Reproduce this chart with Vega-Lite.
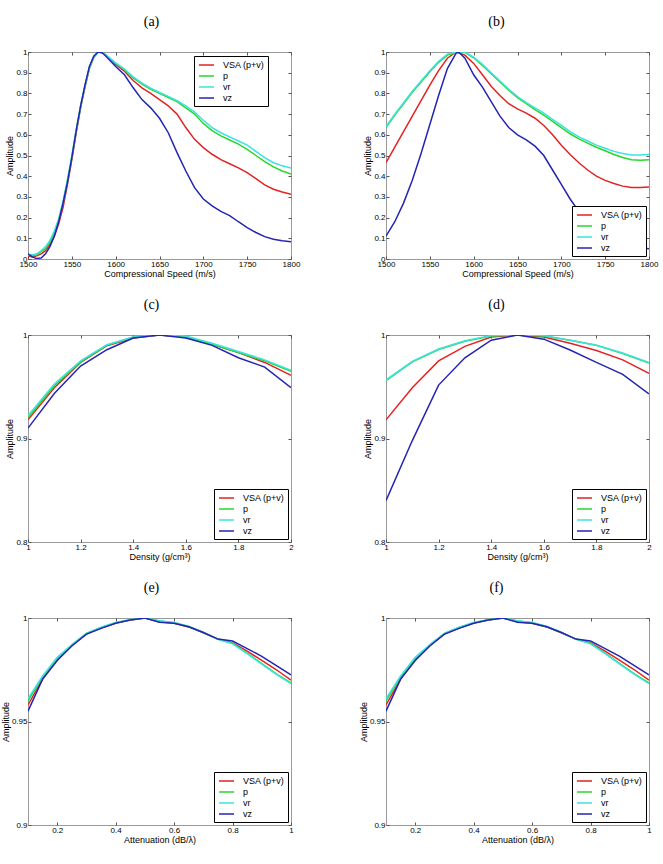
{
"$schema":"https://vega.github.io/schema/vega-lite/v6.json",
"background":"white",
"padding":{"left":0,"top":14,"right":5,"bottom":5},
"bounds":"flush",
"columns":2,
"spacing":{"row":76,"column":95},
"datasets":{
"a":[
{"x":1500,"s":"VSA (p+v)","y":0.015},{"x":1505,"s":"VSA (p+v)","y":0.01},{"x":1510,"s":"VSA (p+v)","y":0.015},{"x":1515,"s":"VSA (p+v)","y":0.025},{"x":1520,"s":"VSA (p+v)","y":0.04},{"x":1525,"s":"VSA (p+v)","y":0.07},{"x":1530,"s":"VSA (p+v)","y":0.11},{"x":1535,"s":"VSA (p+v)","y":0.17},{"x":1540,"s":"VSA (p+v)","y":0.25},{"x":1545,"s":"VSA (p+v)","y":0.36},{"x":1550,"s":"VSA (p+v)","y":0.48},{"x":1555,"s":"VSA (p+v)","y":0.61},{"x":1560,"s":"VSA (p+v)","y":0.73},{"x":1565,"s":"VSA (p+v)","y":0.83},{"x":1570,"s":"VSA (p+v)","y":0.92},{"x":1575,"s":"VSA (p+v)","y":0.975},{"x":1580,"s":"VSA (p+v)","y":1.0},{"x":1585,"s":"VSA (p+v)","y":0.998},{"x":1590,"s":"VSA (p+v)","y":0.98},{"x":1600,"s":"VSA (p+v)","y":0.94},{"x":1610,"s":"VSA (p+v)","y":0.907},{"x":1620,"s":"VSA (p+v)","y":0.862},{"x":1630,"s":"VSA (p+v)","y":0.827},{"x":1640,"s":"VSA (p+v)","y":0.8},{"x":1650,"s":"VSA (p+v)","y":0.77},{"x":1660,"s":"VSA (p+v)","y":0.74},{"x":1670,"s":"VSA (p+v)","y":0.7},{"x":1680,"s":"VSA (p+v)","y":0.635},{"x":1690,"s":"VSA (p+v)","y":0.578},{"x":1700,"s":"VSA (p+v)","y":0.538},{"x":1710,"s":"VSA (p+v)","y":0.506},{"x":1720,"s":"VSA (p+v)","y":0.48},{"x":1730,"s":"VSA (p+v)","y":0.46},{"x":1740,"s":"VSA (p+v)","y":0.44},{"x":1750,"s":"VSA (p+v)","y":0.417},{"x":1760,"s":"VSA (p+v)","y":0.388},{"x":1770,"s":"VSA (p+v)","y":0.358},{"x":1780,"s":"VSA (p+v)","y":0.337},{"x":1790,"s":"VSA (p+v)","y":0.324},{"x":1800,"s":"VSA (p+v)","y":0.313},
{"x":1500,"s":"p","y":0.02},{"x":1505,"s":"p","y":0.015},{"x":1510,"s":"p","y":0.02},{"x":1515,"s":"p","y":0.035},{"x":1520,"s":"p","y":0.05},{"x":1525,"s":"p","y":0.08},{"x":1530,"s":"p","y":0.125},{"x":1535,"s":"p","y":0.185},{"x":1540,"s":"p","y":0.27},{"x":1545,"s":"p","y":0.375},{"x":1550,"s":"p","y":0.49},{"x":1555,"s":"p","y":0.62},{"x":1560,"s":"p","y":0.735},{"x":1565,"s":"p","y":0.835},{"x":1570,"s":"p","y":0.92},{"x":1575,"s":"p","y":0.975},{"x":1580,"s":"p","y":1.0},{"x":1585,"s":"p","y":0.998},{"x":1590,"s":"p","y":0.982},{"x":1600,"s":"p","y":0.945},{"x":1610,"s":"p","y":0.915},{"x":1620,"s":"p","y":0.875},{"x":1630,"s":"p","y":0.845},{"x":1640,"s":"p","y":0.82},{"x":1650,"s":"p","y":0.8},{"x":1660,"s":"p","y":0.78},{"x":1670,"s":"p","y":0.76},{"x":1680,"s":"p","y":0.73},{"x":1690,"s":"p","y":0.7},{"x":1700,"s":"p","y":0.655},{"x":1710,"s":"p","y":0.62},{"x":1720,"s":"p","y":0.595},{"x":1730,"s":"p","y":0.575},{"x":1740,"s":"p","y":0.555},{"x":1750,"s":"p","y":0.53},{"x":1760,"s":"p","y":0.5},{"x":1770,"s":"p","y":0.47},{"x":1780,"s":"p","y":0.445},{"x":1790,"s":"p","y":0.425},{"x":1800,"s":"p","y":0.41},
{"x":1500,"s":"vr","y":0.02},{"x":1505,"s":"vr","y":0.02},{"x":1510,"s":"vr","y":0.025},{"x":1515,"s":"vr","y":0.04},{"x":1520,"s":"vr","y":0.06},{"x":1525,"s":"vr","y":0.09},{"x":1530,"s":"vr","y":0.135},{"x":1535,"s":"vr","y":0.195},{"x":1540,"s":"vr","y":0.28},{"x":1545,"s":"vr","y":0.385},{"x":1550,"s":"vr","y":0.5},{"x":1555,"s":"vr","y":0.625},{"x":1560,"s":"vr","y":0.74},{"x":1565,"s":"vr","y":0.84},{"x":1570,"s":"vr","y":0.925},{"x":1575,"s":"vr","y":0.977},{"x":1580,"s":"vr","y":1.0},{"x":1585,"s":"vr","y":0.998},{"x":1590,"s":"vr","y":0.983},{"x":1600,"s":"vr","y":0.947},{"x":1610,"s":"vr","y":0.918},{"x":1620,"s":"vr","y":0.88},{"x":1630,"s":"vr","y":0.85},{"x":1640,"s":"vr","y":0.825},{"x":1650,"s":"vr","y":0.805},{"x":1660,"s":"vr","y":0.785},{"x":1670,"s":"vr","y":0.765},{"x":1680,"s":"vr","y":0.74},{"x":1690,"s":"vr","y":0.71},{"x":1700,"s":"vr","y":0.67},{"x":1710,"s":"vr","y":0.635},{"x":1720,"s":"vr","y":0.61},{"x":1730,"s":"vr","y":0.59},{"x":1740,"s":"vr","y":0.57},{"x":1750,"s":"vr","y":0.55},{"x":1760,"s":"vr","y":0.52},{"x":1770,"s":"vr","y":0.49},{"x":1780,"s":"vr","y":0.465},{"x":1790,"s":"vr","y":0.45},{"x":1800,"s":"vr","y":0.44},
{"x":1500,"s":"vz","y":0.025},{"x":1505,"s":"vz","y":0.01},{"x":1510,"s":"vz","y":0.002},{"x":1515,"s":"vz","y":0.005},{"x":1520,"s":"vz","y":0.025},{"x":1525,"s":"vz","y":0.06},{"x":1530,"s":"vz","y":0.11},{"x":1535,"s":"vz","y":0.18},{"x":1540,"s":"vz","y":0.27},{"x":1545,"s":"vz","y":0.37},{"x":1550,"s":"vz","y":0.49},{"x":1555,"s":"vz","y":0.62},{"x":1560,"s":"vz","y":0.74},{"x":1565,"s":"vz","y":0.84},{"x":1570,"s":"vz","y":0.93},{"x":1575,"s":"vz","y":0.98},{"x":1580,"s":"vz","y":1.0},{"x":1585,"s":"vz","y":0.995},{"x":1590,"s":"vz","y":0.975},{"x":1600,"s":"vz","y":0.93},{"x":1610,"s":"vz","y":0.89},{"x":1620,"s":"vz","y":0.827},{"x":1630,"s":"vz","y":0.77},{"x":1640,"s":"vz","y":0.73},{"x":1650,"s":"vz","y":0.68},{"x":1660,"s":"vz","y":0.61},{"x":1670,"s":"vz","y":0.514},{"x":1680,"s":"vz","y":0.425},{"x":1690,"s":"vz","y":0.345},{"x":1700,"s":"vz","y":0.29},{"x":1710,"s":"vz","y":0.257},{"x":1720,"s":"vz","y":0.23},{"x":1730,"s":"vz","y":0.21},{"x":1740,"s":"vz","y":0.18},{"x":1750,"s":"vz","y":0.152},{"x":1760,"s":"vz","y":0.128},{"x":1770,"s":"vz","y":0.108},{"x":1780,"s":"vz","y":0.095},{"x":1790,"s":"vz","y":0.088},{"x":1800,"s":"vz","y":0.083}
],
"b":[
{"x":1500,"s":"VSA (p+v)","y":0.465},{"x":1510,"s":"VSA (p+v)","y":0.54},{"x":1520,"s":"VSA (p+v)","y":0.615},{"x":1530,"s":"VSA (p+v)","y":0.69},{"x":1540,"s":"VSA (p+v)","y":0.765},{"x":1550,"s":"VSA (p+v)","y":0.84},{"x":1560,"s":"VSA (p+v)","y":0.91},{"x":1570,"s":"VSA (p+v)","y":0.97},{"x":1580,"s":"VSA (p+v)","y":1.0},{"x":1590,"s":"VSA (p+v)","y":0.985},{"x":1600,"s":"VSA (p+v)","y":0.945},{"x":1610,"s":"VSA (p+v)","y":0.89},{"x":1620,"s":"VSA (p+v)","y":0.835},{"x":1630,"s":"VSA (p+v)","y":0.79},{"x":1640,"s":"VSA (p+v)","y":0.75},{"x":1650,"s":"VSA (p+v)","y":0.725},{"x":1660,"s":"VSA (p+v)","y":0.705},{"x":1670,"s":"VSA (p+v)","y":0.68},{"x":1680,"s":"VSA (p+v)","y":0.645},{"x":1690,"s":"VSA (p+v)","y":0.6},{"x":1700,"s":"VSA (p+v)","y":0.55},{"x":1710,"s":"VSA (p+v)","y":0.505},{"x":1720,"s":"VSA (p+v)","y":0.465},{"x":1730,"s":"VSA (p+v)","y":0.43},{"x":1740,"s":"VSA (p+v)","y":0.4},{"x":1750,"s":"VSA (p+v)","y":0.38},{"x":1760,"s":"VSA (p+v)","y":0.365},{"x":1770,"s":"VSA (p+v)","y":0.352},{"x":1780,"s":"VSA (p+v)","y":0.345},{"x":1790,"s":"VSA (p+v)","y":0.345},{"x":1800,"s":"VSA (p+v)","y":0.348},
{"x":1500,"s":"p","y":0.635},{"x":1510,"s":"p","y":0.695},{"x":1520,"s":"p","y":0.75},{"x":1530,"s":"p","y":0.805},{"x":1540,"s":"p","y":0.855},{"x":1550,"s":"p","y":0.905},{"x":1560,"s":"p","y":0.95},{"x":1570,"s":"p","y":0.985},{"x":1580,"s":"p","y":0.998},{"x":1590,"s":"p","y":0.998},{"x":1600,"s":"p","y":0.972},{"x":1610,"s":"p","y":0.935},{"x":1620,"s":"p","y":0.895},{"x":1630,"s":"p","y":0.855},{"x":1640,"s":"p","y":0.815},{"x":1650,"s":"p","y":0.78},{"x":1660,"s":"p","y":0.75},{"x":1670,"s":"p","y":0.722},{"x":1680,"s":"p","y":0.695},{"x":1690,"s":"p","y":0.665},{"x":1700,"s":"p","y":0.635},{"x":1710,"s":"p","y":0.605},{"x":1720,"s":"p","y":0.58},{"x":1730,"s":"p","y":0.56},{"x":1740,"s":"p","y":0.54},{"x":1750,"s":"p","y":0.523},{"x":1760,"s":"p","y":0.505},{"x":1770,"s":"p","y":0.49},{"x":1780,"s":"p","y":0.48},{"x":1790,"s":"p","y":0.477},{"x":1800,"s":"p","y":0.48},
{"x":1500,"s":"vr","y":0.64},{"x":1510,"s":"vr","y":0.7},{"x":1520,"s":"vr","y":0.755},{"x":1530,"s":"vr","y":0.81},{"x":1540,"s":"vr","y":0.86},{"x":1550,"s":"vr","y":0.91},{"x":1560,"s":"vr","y":0.955},{"x":1570,"s":"vr","y":0.99},{"x":1580,"s":"vr","y":1.0},{"x":1590,"s":"vr","y":1.0},{"x":1600,"s":"vr","y":0.975},{"x":1610,"s":"vr","y":0.94},{"x":1620,"s":"vr","y":0.9},{"x":1630,"s":"vr","y":0.86},{"x":1640,"s":"vr","y":0.82},{"x":1650,"s":"vr","y":0.785},{"x":1660,"s":"vr","y":0.755},{"x":1670,"s":"vr","y":0.73},{"x":1680,"s":"vr","y":0.705},{"x":1690,"s":"vr","y":0.675},{"x":1700,"s":"vr","y":0.645},{"x":1710,"s":"vr","y":0.615},{"x":1720,"s":"vr","y":0.59},{"x":1730,"s":"vr","y":0.57},{"x":1740,"s":"vr","y":0.55},{"x":1750,"s":"vr","y":0.535},{"x":1760,"s":"vr","y":0.52},{"x":1770,"s":"vr","y":0.51},{"x":1780,"s":"vr","y":0.503},{"x":1790,"s":"vr","y":0.503},{"x":1800,"s":"vr","y":0.505},
{"x":1500,"s":"vz","y":0.11},{"x":1510,"s":"vz","y":0.18},{"x":1520,"s":"vz","y":0.27},{"x":1530,"s":"vz","y":0.38},{"x":1540,"s":"vz","y":0.51},{"x":1550,"s":"vz","y":0.65},{"x":1560,"s":"vz","y":0.79},{"x":1570,"s":"vz","y":0.92},{"x":1580,"s":"vz","y":0.995},{"x":1583,"s":"vz","y":1.0},{"x":1590,"s":"vz","y":0.97},{"x":1600,"s":"vz","y":0.89},{"x":1610,"s":"vz","y":0.83},{"x":1620,"s":"vz","y":0.76},{"x":1630,"s":"vz","y":0.69},{"x":1640,"s":"vz","y":0.635},{"x":1650,"s":"vz","y":0.6},{"x":1660,"s":"vz","y":0.575},{"x":1670,"s":"vz","y":0.545},{"x":1680,"s":"vz","y":0.5},{"x":1690,"s":"vz","y":0.43},{"x":1700,"s":"vz","y":0.36},{"x":1710,"s":"vz","y":0.29},{"x":1720,"s":"vz","y":0.23},{"x":1730,"s":"vz","y":0.18},{"x":1740,"s":"vz","y":0.14},{"x":1750,"s":"vz","y":0.11},{"x":1760,"s":"vz","y":0.085},{"x":1770,"s":"vz","y":0.07},{"x":1780,"s":"vz","y":0.06},{"x":1790,"s":"vz","y":0.055},{"x":1800,"s":"vz","y":0.05}
],
"c":[
{"x":1.0,"s":"VSA (p+v)","y":0.918},{"x":1.1,"s":"VSA (p+v)","y":0.949},{"x":1.2,"s":"VSA (p+v)","y":0.9735},{"x":1.3,"s":"VSA (p+v)","y":0.9897},{"x":1.4,"s":"VSA (p+v)","y":0.997},{"x":1.5,"s":"VSA (p+v)","y":1.0},{"x":1.6,"s":"VSA (p+v)","y":0.998},{"x":1.7,"s":"VSA (p+v)","y":0.991},{"x":1.8,"s":"VSA (p+v)","y":0.983},{"x":1.9,"s":"VSA (p+v)","y":0.9735},{"x":2.0,"s":"VSA (p+v)","y":0.961},
{"x":1.0,"s":"p","y":0.92},{"x":1.1,"s":"p","y":0.951},{"x":1.2,"s":"p","y":0.974},{"x":1.3,"s":"p","y":0.99},{"x":1.4,"s":"p","y":0.998},{"x":1.5,"s":"p","y":1.0},{"x":1.6,"s":"p","y":0.998},{"x":1.7,"s":"p","y":0.991},{"x":1.8,"s":"p","y":0.983},{"x":1.9,"s":"p","y":0.975},{"x":2.0,"s":"p","y":0.965},
{"x":1.0,"s":"vr","y":0.922},{"x":1.1,"s":"vr","y":0.9526},{"x":1.2,"s":"vr","y":0.975},{"x":1.3,"s":"vr","y":0.9906},{"x":1.4,"s":"vr","y":0.998},{"x":1.5,"s":"vr","y":1.0},{"x":1.6,"s":"vr","y":0.999},{"x":1.7,"s":"vr","y":0.992},{"x":1.8,"s":"vr","y":0.984},{"x":1.9,"s":"vr","y":0.976},{"x":2.0,"s":"vr","y":0.966},
{"x":1.0,"s":"vz","y":0.91},{"x":1.1,"s":"vz","y":0.9435},{"x":1.2,"s":"vz","y":0.97},{"x":1.3,"s":"vz","y":0.9858},{"x":1.4,"s":"vz","y":0.997},{"x":1.5,"s":"vz","y":1.0},{"x":1.6,"s":"vz","y":0.997},{"x":1.7,"s":"vz","y":0.99},{"x":1.8,"s":"vz","y":0.978},{"x":1.9,"s":"vz","y":0.969},{"x":2.0,"s":"vz","y":0.949}
],
"d":[
{"x":1.0,"s":"VSA (p+v)","y":0.918},{"x":1.1,"s":"VSA (p+v)","y":0.949},{"x":1.2,"s":"VSA (p+v)","y":0.975},{"x":1.3,"s":"VSA (p+v)","y":0.989},{"x":1.4,"s":"VSA (p+v)","y":0.998},{"x":1.5,"s":"VSA (p+v)","y":1.0},{"x":1.6,"s":"VSA (p+v)","y":0.998},{"x":1.7,"s":"VSA (p+v)","y":0.992},{"x":1.8,"s":"VSA (p+v)","y":0.985},{"x":1.9,"s":"VSA (p+v)","y":0.976},{"x":2.0,"s":"VSA (p+v)","y":0.963},
{"x":1.0,"s":"p","y":0.956},{"x":1.1,"s":"p","y":0.974},{"x":1.2,"s":"p","y":0.986},{"x":1.3,"s":"p","y":0.994},{"x":1.4,"s":"p","y":0.999},{"x":1.5,"s":"p","y":1.0},{"x":1.6,"s":"p","y":0.999},{"x":1.7,"s":"p","y":0.995},{"x":1.8,"s":"p","y":0.99},{"x":1.9,"s":"p","y":0.982},{"x":2.0,"s":"p","y":0.973},
{"x":1.0,"s":"vr","y":0.9565},{"x":1.1,"s":"vr","y":0.9745},{"x":1.2,"s":"vr","y":0.9865},{"x":1.3,"s":"vr","y":0.9945},{"x":1.4,"s":"vr","y":0.9994},{"x":1.5,"s":"vr","y":1.0},{"x":1.6,"s":"vr","y":0.9994},{"x":1.7,"s":"vr","y":0.995},{"x":1.8,"s":"vr","y":0.99},{"x":1.9,"s":"vr","y":0.9826},{"x":2.0,"s":"vr","y":0.9735},
{"x":1.0,"s":"vz","y":0.84},{"x":1.1,"s":"vz","y":0.898},{"x":1.2,"s":"vz","y":0.9516},{"x":1.3,"s":"vz","y":0.978},{"x":1.4,"s":"vz","y":0.995},{"x":1.5,"s":"vz","y":1.0},{"x":1.6,"s":"vz","y":0.996},{"x":1.7,"s":"vz","y":0.9855},{"x":1.8,"s":"vz","y":0.9735},{"x":1.9,"s":"vz","y":0.962},{"x":2.0,"s":"vz","y":0.943}
],
"e":[
{"x":0.1,"s":"VSA (p+v)","y":0.958},{"x":0.15,"s":"VSA (p+v)","y":0.9705},{"x":0.2,"s":"VSA (p+v)","y":0.9798},{"x":0.25,"s":"VSA (p+v)","y":0.9867},{"x":0.3,"s":"VSA (p+v)","y":0.9923},{"x":0.35,"s":"VSA (p+v)","y":0.9952},{"x":0.4,"s":"VSA (p+v)","y":0.9976},{"x":0.45,"s":"VSA (p+v)","y":0.999},{"x":0.5,"s":"VSA (p+v)","y":1.0},{"x":0.55,"s":"VSA (p+v)","y":0.9982},{"x":0.6,"s":"VSA (p+v)","y":0.9975},{"x":0.65,"s":"VSA (p+v)","y":0.9957},{"x":0.7,"s":"VSA (p+v)","y":0.9929},{"x":0.75,"s":"VSA (p+v)","y":0.9898},{"x":0.8,"s":"VSA (p+v)","y":0.988},{"x":0.85,"s":"VSA (p+v)","y":0.984},{"x":0.9,"s":"VSA (p+v)","y":0.9795},{"x":0.95,"s":"VSA (p+v)","y":0.975},{"x":1.0,"s":"VSA (p+v)","y":0.97},
{"x":0.1,"s":"p","y":0.96},{"x":0.15,"s":"p","y":0.9715},{"x":0.2,"s":"p","y":0.9802},{"x":0.25,"s":"p","y":0.987},{"x":0.3,"s":"p","y":0.9925},{"x":0.35,"s":"p","y":0.9954},{"x":0.4,"s":"p","y":0.9977},{"x":0.45,"s":"p","y":0.9991},{"x":0.5,"s":"p","y":1.0},{"x":0.55,"s":"p","y":0.9985},{"x":0.6,"s":"p","y":0.9977},{"x":0.65,"s":"p","y":0.9958},{"x":0.7,"s":"p","y":0.993},{"x":0.75,"s":"p","y":0.9898},{"x":0.8,"s":"p","y":0.9878},{"x":0.85,"s":"p","y":0.983},{"x":0.9,"s":"p","y":0.978},{"x":0.95,"s":"p","y":0.973},{"x":1.0,"s":"p","y":0.9687},
{"x":0.1,"s":"vr","y":0.961},{"x":0.15,"s":"vr","y":0.972},{"x":0.2,"s":"vr","y":0.981},{"x":0.25,"s":"vr","y":0.9872},{"x":0.3,"s":"vr","y":0.9926},{"x":0.35,"s":"vr","y":0.9956},{"x":0.4,"s":"vr","y":0.9978},{"x":0.45,"s":"vr","y":0.9992},{"x":0.5,"s":"vr","y":1.0},{"x":0.55,"s":"vr","y":0.9987},{"x":0.6,"s":"vr","y":0.9978},{"x":0.65,"s":"vr","y":0.996},{"x":0.7,"s":"vr","y":0.9931},{"x":0.75,"s":"vr","y":0.9897},{"x":0.8,"s":"vr","y":0.9875},{"x":0.85,"s":"vr","y":0.9828},{"x":0.9,"s":"vr","y":0.9777},{"x":0.95,"s":"vr","y":0.9728},{"x":1.0,"s":"vr","y":0.9683},
{"x":0.1,"s":"vz","y":0.955},{"x":0.15,"s":"vz","y":0.9705},{"x":0.2,"s":"vz","y":0.9795},{"x":0.25,"s":"vz","y":0.9865},{"x":0.3,"s":"vz","y":0.9922},{"x":0.35,"s":"vz","y":0.995},{"x":0.4,"s":"vz","y":0.9975},{"x":0.45,"s":"vz","y":0.999},{"x":0.5,"s":"vz","y":1.0},{"x":0.55,"s":"vz","y":0.998},{"x":0.6,"s":"vz","y":0.9975},{"x":0.65,"s":"vz","y":0.9958},{"x":0.7,"s":"vz","y":0.993},{"x":0.75,"s":"vz","y":0.9898},{"x":0.8,"s":"vz","y":0.9889},{"x":0.85,"s":"vz","y":0.9852},{"x":0.9,"s":"vz","y":0.9815},{"x":0.95,"s":"vz","y":0.977},{"x":1.0,"s":"vz","y":0.9725}
]
},
"concat":[
{"title":{"text":"(a)","dx":-8},"width":263,"height":207,"data":{"name":"a"},
"layer":[
{"mark":{"type":"line","strokeWidth":1.5,"clip":true},
"encoding":{
"x":{"field":"x","type":"quantitative","scale":{"domain":[1500,1800],"nice":false,"zero":false},"axis":{"title":"Compressional Speed (m/s)","values":[1500,1550,1600,1650,1700,1750,1800],"format":"d"}},
"y":{"field":"y","type":"quantitative","scale":{"domain":[0,1],"nice":false,"zero":false},"axis":{"title":"Amplitude","values":[0,0.1,0.2,0.3,0.4,0.5,0.6,0.7,0.8,0.9,1],"format":"~g"}},
"color":{"field":"s","type":"nominal","scale":{"domain":["VSA (p+v)","p","vr","vz"],"range":["#e32222","#2cd42c","#3ae3e3","#2424b4"]},"legend":{"title":null,"orient":"none","direction":"vertical","legendX":166,"legendY":4}}}},
{"mark":{"type":"line","opacity":0},
"encoding":{
"x":{"field":"x","type":"quantitative","scale":{"domain":[1500,1800],"nice":false,"zero":false},"axis":{"orient":"top","title":null,"labels":false,"values":[1500,1550,1600,1650,1700,1750,1800]}},
"y":{"field":"y","type":"quantitative","scale":{"domain":[0,1],"nice":false,"zero":false},"axis":{"orient":"right","title":null,"labels":false,"values":[0,0.1,0.2,0.3,0.4,0.5,0.6,0.7,0.8,0.9,1]}},
"detail":{"field":"s"}}}
],
"resolve":{"axis":{"x":"independent","y":"independent"}}},
{"title":{"text":"(b)","dx":-21},"width":263,"height":207,"data":{"name":"b"},
"layer":[
{"mark":{"type":"line","strokeWidth":1.5,"clip":true},
"encoding":{
"x":{"field":"x","type":"quantitative","scale":{"domain":[1500,1800],"nice":false,"zero":false},"axis":{"title":"Compressional Speed (m/s)","values":[1500,1550,1600,1650,1700,1750,1800],"format":"d"}},
"y":{"field":"y","type":"quantitative","scale":{"domain":[0,1],"nice":false,"zero":false},"axis":{"title":"Amplitude","values":[0,0.1,0.2,0.3,0.4,0.5,0.6,0.7,0.8,0.9,1],"format":"~g"}},
"color":{"field":"s","type":"nominal","scale":{"domain":["VSA (p+v)","p","vr","vz"],"range":["#e32222","#2cd42c","#3ae3e3","#2424b4"]},"legend":{"title":null,"orient":"bottom-right"}}}},
{"mark":{"type":"line","opacity":0},
"encoding":{
"x":{"field":"x","type":"quantitative","scale":{"domain":[1500,1800],"nice":false,"zero":false},"axis":{"orient":"top","title":null,"labels":false,"values":[1500,1550,1600,1650,1700,1750,1800]}},
"y":{"field":"y","type":"quantitative","scale":{"domain":[0,1],"nice":false,"zero":false},"axis":{"orient":"right","title":null,"labels":false,"values":[0,0.1,0.2,0.3,0.4,0.5,0.6,0.7,0.8,0.9,1]}},
"detail":{"field":"s"}}}
],
"resolve":{"axis":{"x":"independent","y":"independent"}}},
{"title":{"text":"(c)","dx":-8},"width":263,"height":207,"data":{"name":"c"},
"layer":[
{"mark":{"type":"line","strokeWidth":1.5,"clip":true},
"encoding":{
"x":{"field":"x","type":"quantitative","scale":{"domain":[1,2],"nice":false,"zero":false},"axis":{"title":"Density (g/cm³)","values":[1,1.2,1.4,1.6,1.8,2],"format":"~g"}},
"y":{"field":"y","type":"quantitative","scale":{"domain":[0.8,1],"nice":false,"zero":false},"axis":{"title":"Amplitude","values":[0.8,0.9,1],"format":"~g"}},
"color":{"field":"s","type":"nominal","scale":{"domain":["VSA (p+v)","p","vr","vz"],"range":["#e32222","#2cd42c","#3ae3e3","#2424b4"]},"legend":{"title":null,"orient":"bottom-right"}}}},
{"mark":{"type":"line","opacity":0},
"encoding":{
"x":{"field":"x","type":"quantitative","scale":{"domain":[1,2],"nice":false,"zero":false},"axis":{"orient":"top","title":null,"labels":false,"values":[1,1.2,1.4,1.6,1.8,2]}},
"y":{"field":"y","type":"quantitative","scale":{"domain":[0.8,1],"nice":false,"zero":false},"axis":{"orient":"right","title":null,"labels":false,"values":[0.8,0.9,1]}},
"detail":{"field":"s"}}}
],
"resolve":{"axis":{"x":"independent","y":"independent"}}},
{"title":{"text":"(d)","dx":-21},"width":263,"height":207,"data":{"name":"d"},
"layer":[
{"mark":{"type":"line","strokeWidth":1.5,"clip":true},
"encoding":{
"x":{"field":"x","type":"quantitative","scale":{"domain":[1,2],"nice":false,"zero":false},"axis":{"title":"Density (g/cm³)","values":[1,1.2,1.4,1.6,1.8,2],"format":"~g"}},
"y":{"field":"y","type":"quantitative","scale":{"domain":[0.8,1],"nice":false,"zero":false},"axis":{"title":"Amplitude","values":[0.8,0.9,1],"format":"~g"}},
"color":{"field":"s","type":"nominal","scale":{"domain":["VSA (p+v)","p","vr","vz"],"range":["#e32222","#2cd42c","#3ae3e3","#2424b4"]},"legend":{"title":null,"orient":"bottom-right"}}}},
{"mark":{"type":"line","opacity":0},
"encoding":{
"x":{"field":"x","type":"quantitative","scale":{"domain":[1,2],"nice":false,"zero":false},"axis":{"orient":"top","title":null,"labels":false,"values":[1,1.2,1.4,1.6,1.8,2]}},
"y":{"field":"y","type":"quantitative","scale":{"domain":[0.8,1],"nice":false,"zero":false},"axis":{"orient":"right","title":null,"labels":false,"values":[0.8,0.9,1]}},
"detail":{"field":"s"}}}
],
"resolve":{"axis":{"x":"independent","y":"independent"}}},
{"title":{"text":"(e)","dx":-8},"width":263,"height":207,"data":{"name":"e"},
"layer":[
{"mark":{"type":"line","strokeWidth":1.5,"clip":true},
"encoding":{
"x":{"field":"x","type":"quantitative","scale":{"domain":[0.1,1],"nice":false,"zero":false},"axis":{"title":"Attenuation (dB/λ)","values":[0.2,0.4,0.6,0.8,1],"format":"~g"}},
"y":{"field":"y","type":"quantitative","scale":{"domain":[0.9,1],"nice":false,"zero":false},"axis":{"title":"Amplitude","values":[0.9,0.95,1],"format":"~g"}},
"color":{"field":"s","type":"nominal","scale":{"domain":["VSA (p+v)","p","vr","vz"],"range":["#e32222","#2cd42c","#3ae3e3","#2424b4"]},"legend":{"title":null,"orient":"bottom-right"}}}},
{"mark":{"type":"line","opacity":0},
"encoding":{
"x":{"field":"x","type":"quantitative","scale":{"domain":[0.1,1],"nice":false,"zero":false},"axis":{"orient":"top","title":null,"labels":false,"values":[0.2,0.4,0.6,0.8,1]}},
"y":{"field":"y","type":"quantitative","scale":{"domain":[0.9,1],"nice":false,"zero":false},"axis":{"orient":"right","title":null,"labels":false,"values":[0.9,0.95,1]}},
"detail":{"field":"s"}}}
],
"resolve":{"axis":{"x":"independent","y":"independent"}}},
{"title":{"text":"(f)","dx":-21},"width":263,"height":207,"data":{"name":"e"},
"layer":[
{"mark":{"type":"line","strokeWidth":1.5,"clip":true},
"encoding":{
"x":{"field":"x","type":"quantitative","scale":{"domain":[0.1,1],"nice":false,"zero":false},"axis":{"title":"Attenuation (dB/λ)","values":[0.2,0.4,0.6,0.8,1],"format":"~g"}},
"y":{"field":"y","type":"quantitative","scale":{"domain":[0.9,1],"nice":false,"zero":false},"axis":{"title":"Amplitude","values":[0.9,0.95,1],"format":"~g"}},
"color":{"field":"s","type":"nominal","scale":{"domain":["VSA (p+v)","p","vr","vz"],"range":["#e32222","#2cd42c","#3ae3e3","#2424b4"]},"legend":{"title":null,"orient":"bottom-right"}}}},
{"mark":{"type":"line","opacity":0},
"encoding":{
"x":{"field":"x","type":"quantitative","scale":{"domain":[0.1,1],"nice":false,"zero":false},"axis":{"orient":"top","title":null,"labels":false,"values":[0.2,0.4,0.6,0.8,1]}},
"y":{"field":"y","type":"quantitative","scale":{"domain":[0.9,1],"nice":false,"zero":false},"axis":{"orient":"right","title":null,"labels":false,"values":[0.9,0.95,1]}},
"detail":{"field":"s"}}}
],
"resolve":{"axis":{"x":"independent","y":"independent"}}}
],
"resolve":{"scale":{"color":"independent"},"legend":{"color":"independent"}},
"config":{
"view":{"stroke":"#9a9a9a","strokeWidth":1},
"axis":{"grid":false,"domain":false,"labelFont":"Liberation Sans","titleFont":"Liberation Sans","labelFontSize":8,"titleFontSize":9,"titleFontWeight":"normal","labelColor":"#000","titleColor":"#000","tickColor":"#555","tickSize":-3,"labelPadding":4,"titlePadding":1,"labelOverlap":false,"labelFlush":false,"labelBound":false},
"title":{"font":"Liberation Serif","fontSize":14,"fontWeight":"normal","offset":19,"color":"#000","frame":"group"},
"legend":{"fillColor":"#fff","strokeColor":"#000","padding":3,"labelFont":"Liberation Sans","labelFontSize":9,"labelColor":"#000","symbolType":"M-0.8,0H2.2","symbolStrokeWidth":1.5,"symbolSize":100,"rowPadding":0,"labelOffset":14,"offset":3}
}
}
